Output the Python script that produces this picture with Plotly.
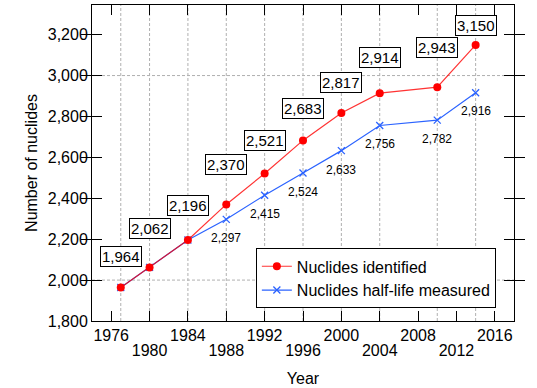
import plotly.graph_objects as go

# Nuclide discovery data
years = [1977, 1980, 1984, 1988, 1992, 1996, 2000, 2004, 2010, 2014]
identified = [1964, 2062, 2196, 2370, 2521, 2683, 2817, 2914, 2943, 3150]
half_life = [1964, 2062, 2196, 2297, 2415, 2524, 2633, 2756, 2782, 2916]

# Axis ticks
x_ticks = [1976, 1980, 1984, 1988, 1992, 1996, 2000, 2004, 2008, 2012, 2016]
y_ticks = [1800, 2000, 2200, 2400, 2600, 2800, 3000, 3200]
y_grid = [2000, 3000]

# Vertical offsets (px) of the value labels
red_label_shift = [31, 39, 35, 40, 33, 32, 30, 36, 40, 19]
blue_label_shift = [-19, -19, -19, -19, -19, -19, -19, -19, -19, -18]

RED = "#ff0000"
BLUE = "#2b63ff"
FONT = "Liberation Sans, Arial, Helvetica, sans-serif"

fig = go.Figure()

fig.add_trace(go.Scatter(
    x=years, y=half_life, mode="lines+markers",
    name="Nuclides half-life measured",
    line=dict(color=BLUE, width=1.2),
    marker=dict(symbol="x-thin", size=7, line=dict(color=BLUE, width=1.3)),
))
fig.add_trace(go.Scatter(
    x=years, y=identified, mode="lines+markers",
    name="Nuclides identified",
    line=dict(color="rgba(255,0,0,0.8)", width=1.2),
    marker=dict(symbol="circle", size=8, color=RED),
))
# carrier for the second row of year labels
fig.add_trace(go.Scatter(x=[], y=[], xaxis="x2", showlegend=False, hoverinfo="skip"))

# dashed grid at the measurement years and at 2,000 / 3,000
grid = dict(color="#b0b0b0", width=1, dash="3px,2px")
for yr in years:
    fig.add_shape(type="line", xref="x", yref="paper", x0=yr, x1=yr, y0=0, y1=1,
                  line=grid, layer="below")
for gv in y_grid:
    fig.add_shape(type="line", xref="paper", yref="y", x0=0, x1=1, y0=gv, y1=gv,
                  line=grid, layer="below")

for yr, v, s in zip(years, identified, red_label_shift):
    fig.add_annotation(x=yr, y=v, text=f"{v:,}", showarrow=False, yshift=s,
                       font=dict(family=FONT, size=15, color="black"),
                       bgcolor="white", bordercolor="black", borderwidth=1, borderpad=1)

for yr, v, hv, s in zip(years, identified, half_life, blue_label_shift):
    if hv == v:
        continue
    fig.add_annotation(x=yr, y=hv, text=f"{hv:,}", showarrow=False, yshift=s,
                       font=dict(family=FONT, size=12, color="black"))

row1 = [t for i, t in enumerate(x_ticks) if i % 2 == 0]
row2 = [t for i, t in enumerate(x_ticks) if i % 2 == 1]

axis_common = dict(showline=True, linecolor="black", linewidth=1, mirror="allticks",
                   ticks="inside", ticklen=10, tickcolor="black", tickwidth=1,
                   showgrid=False, zeroline=False,
                   tickfont=dict(family=FONT, size=16, color="black"))

fig.update_layout(
    width=537, height=388,
    margin=dict(l=92, r=23, t=4, b=66),
    paper_bgcolor="white", plot_bgcolor="white",
    font=dict(family=FONT, size=16, color="black"),
    xaxis=dict(range=[1974, 2018], tickvals=x_ticks,
               ticktext=[str(t) if t in row1 else "" for t in x_ticks],
               **axis_common),
    xaxis2=dict(range=[1974, 2018], overlaying="x", matches="x", anchor="y", side="bottom",
                tickvals=row2, ticktext=[str(t) for t in row2], ticks="",
                showline=False, showgrid=False, zeroline=False, ticklabelstandoff=18,
                tickfont=dict(family=FONT, size=16, color="black"),
                title=dict(text="Year", standoff=14, font=dict(family=FONT, size=16))),
    yaxis=dict(range=[1800, 3345], tickvals=y_ticks, tickformat=",",
               title=dict(text="Number of nuclides", standoff=6,
                          font=dict(family=FONT, size=16)),
               **axis_common),
    legend=dict(x=0.957, y=0.04, xanchor="right", yanchor="bottom",
                bgcolor="white", bordercolor="black", borderwidth=1,
                font=dict(family=FONT, size=16), traceorder="reversed",
                itemwidth=30, tracegroupgap=0),
    showlegend=True,
)

fig.write_html("out.html")
